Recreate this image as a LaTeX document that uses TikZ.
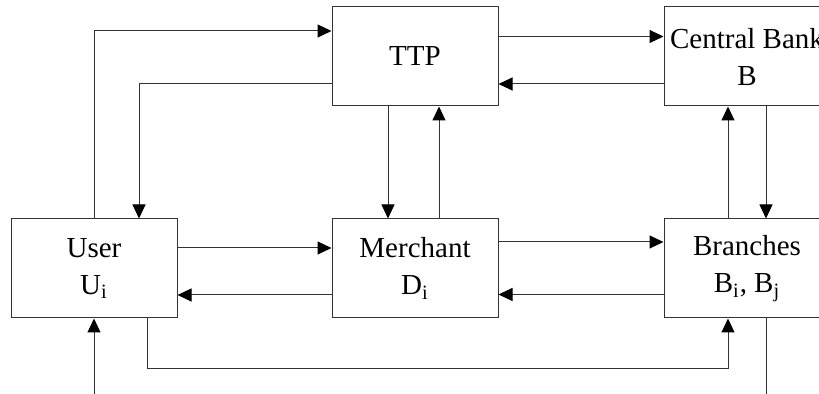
\documentclass[tikz,border=0pt]{standalone}
\usepackage{fontspec}
\setmainfont{Liberation Serif}
\usetikzlibrary{positioning,arrows.meta,calc}

\begin{document}
\begin{tikzpicture}[x=.5pt,y=-.5pt,font=\fontsize{14.5}{18.5}\selectfont,
 blk/.style={draw=black!80,line width=.5pt,minimum width=83pt,minimum height=49.5pt,align=center,inner sep=0pt},
 flow/.style={draw=black!80,line width=.5pt,-{Triangle[length=7pt,width=6.5pt,black]}},
 wire/.style={draw=black!80,line width=.5pt}]
\useasboundingbox (0,0) rectangle (819,394);
\clip (0,0) rectangle (819,394);
\node[blk] (ttp) at (415,56.5) {TTP};
\node[blk] (cb) at (747,56.5) {Central Bank\\B};
\node[blk] (user) at (94,268.5) {User\\U\textsubscript{i}};
\node[blk] (mer) at (415,268.5) {Merchant\\D\textsubscript{i}};
\node[blk] (br) at (747,268.5) {Branches\\B\textsubscript{i}, B\textsubscript{j}};
\coordinate (uin) at (94,400);
\coordinate (bout) at (766,400);
\draw[flow] (user.north) |- ($(ttp.west)+(0,-25.5)$);
\draw[flow] ($(ttp.west)+(0,27.5)$) -| ($(user.north)+(45,0)$);
\draw[flow] ($(ttp.east)+(0,-20)$) -- ($(cb.west)+(0,-20)$);
\draw[flow] ($(cb.west)+(0,27.5)$) -- ($(ttp.east)+(0,27.5)$);
\draw[flow] ($(ttp.south)+(-27,0)$) -- ($(mer.north)+(-27,0)$);
\draw[flow] ($(mer.north)+(24,0)$) -- ($(ttp.south)+(24,0)$);
\draw[flow] ($(br.north)+(-19,0)$) -- ($(cb.south)+(-19,0)$);
\draw[flow] ($(cb.south)+(19,0)$) -- ($(br.north)+(19,0)$);
\draw[flow] ($(user.east)+(0,-20.5)$) -- ($(mer.west)+(0,-20.5)$);
\draw[flow] ($(mer.west)+(0,26.5)$) -- ($(user.east)+(0,26.5)$);
\draw[flow] ($(mer.east)+(0,-26.5)$) -- ($(br.west)+(0,-26.5)$);
\draw[flow] ($(br.west)+(0,26)$) -- ($(mer.east)+(0,26)$);
\draw[flow] ($(user.south)+(53,0)$) -- ++(0,50) -| ($(br.south)+(-19,0)$);
\draw[flow] (uin) -- (user.south);
\draw[wire] ($(br.south)+(19,0)$) -- (bout);
\end{tikzpicture}
\end{document}
